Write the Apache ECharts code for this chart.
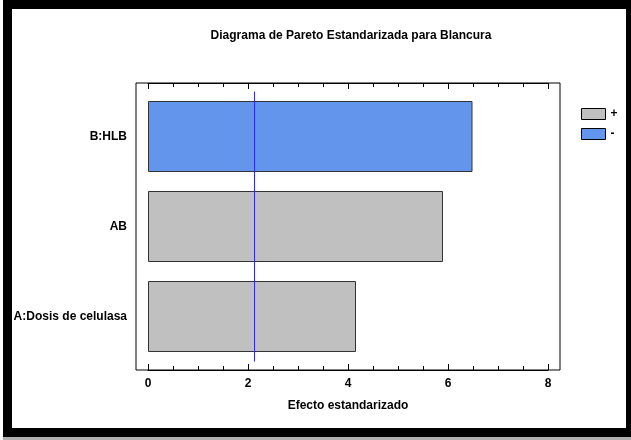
<!DOCTYPE html>
<html><head><meta charset="utf-8">
<script src="https://cdn.jsdelivr.net/npm/echarts@6/dist/echarts.min.js"></script>
<style>
html,body{margin:0;padding:0;background:#fff;}
#wrap{position:relative;width:631px;height:440px;overflow:hidden;}
#c{width:631px;height:440px;}
.f{position:absolute;pointer-events:none;}
</style>
</head><body><div id="wrap"><div id="c"></div>
<div class="f" style="left:3px;top:0;width:9px;height:437px;background:#000"></div>
<div class="f" style="left:3px;top:0;width:628px;height:9px;background:#000"></div>
<div class="f" style="left:626px;top:0;width:5px;height:437px;background:#000"></div>
<div class="f" style="left:3px;top:428px;width:628px;height:9px;background:#000"></div>
<div class="f" style="left:3px;top:437px;width:628px;height:3px;background:#b0b0b0"></div>
</div>
<script>
var categories = ['B:HLB', 'AB', 'A:Dosis de celulasa'];
var positiveValues = [null, 5.90, 4.16];
var negativeValues = [6.49, null, null];
var criticalValue = 2.12;
var xTicks = [0, 2, 4, 6, 8];

var FONT = '"Liberation Sans Narrow", "Arial Narrow", "Liberation Sans", Arial, sans-serif';
var chart = echarts.init(document.getElementById('c'), null, {renderer: 'canvas'});
function tickAxis(pos, extra) {
  var o = {
    type: 'value', gridIndex: 0, position: pos, offset: 8.5,
    min: xTicks[0], max: xTicks[xTicks.length - 1], interval: 2,
    axisLine: {show: true, onZero: false, lineStyle: {color: '#000', width: 1}},
    axisTick: {show: true, inside: true, length: 6, lineStyle: {color: '#000', width: 1}},
    minorTick: {show: true, splitNumber: 4, length: 4, lineStyle: {color: '#000', width: 1}},
    splitLine: {show: false}, minorSplitLine: {show: false}
  };
  for (var k in extra) o[k] = extra[k];
  return o;
}
var option = {
  animation: false,
  backgroundColor: '#fff',
  title: {
    text: 'Diagrama de Pareto Estandarizada para Blancura',
    left: 346, top: 25, textAlign: 'center',
    textStyle: {fontFamily: FONT, fontSize: 12, fontWeight: 'bold', color: '#000'}
  },
  legend: {
    orient: 'vertical', left: 576, top: 103, itemWidth: 24, itemHeight: 11, itemGap: 8,
    icon: 'rect',
    itemStyle: {borderColor: '#000', borderWidth: 1},
    textStyle: {fontFamily: FONT, fontSize: 12, fontWeight: 'bold', color: '#000'},
    data: ['+', '-']
  },
  grid: [
    {left: 148, width: 400, top: 91.5, height: 270},
    {left: 136, right: 71, top: 83, bottom: 70, show: true, borderColor: '#000', borderWidth: 1, backgroundColor: 'transparent'}
  ],
  xAxis: [
    tickAxis('bottom', {
      axisLabel: {show: true, margin: 8, fontFamily: FONT, fontSize: 12, fontWeight: 'bold', color: '#000'},
      name: 'Efecto estandarizado', nameLocation: 'middle', nameGap: 30,
      nameTextStyle: {fontFamily: FONT, fontSize: 12, fontWeight: 'bold', color: '#000'}
    }),
    tickAxis('top', {axisLabel: {show: false}}),
    {type: 'value', gridIndex: 1, show: false}
  ],
  yAxis: [
    {type: 'category', gridIndex: 0, data: categories, inverse: true,
     axisLine: {show: false}, axisTick: {show: false},
     axisLabel: {margin: 21, fontFamily: FONT, fontSize: 12, fontWeight: 'bold', color: '#000'}},
    {type: 'value', gridIndex: 1, show: false}
  ],
  series: [
    {name: '+', type: 'bar', stack: 'e', xAxisIndex: 0, yAxisIndex: 0, data: positiveValues, barWidth: 71,
     itemStyle: {color: '#c0c0c0', borderColor: '#333', borderWidth: 1},
     markLine: {silent: true, symbol: 'none', label: {show: false},
       lineStyle: {color: '#2a2aff', width: 1, type: 'solid'},
       data: [{xAxis: criticalValue}]}},
    {name: '-', type: 'bar', stack: 'e', xAxisIndex: 0, yAxisIndex: 0, data: negativeValues, barWidth: 71,
     itemStyle: {color: '#6495ed', borderColor: '#333', borderWidth: 1}}
  ]
};
chart.setOption(option);
</script></body></html>
